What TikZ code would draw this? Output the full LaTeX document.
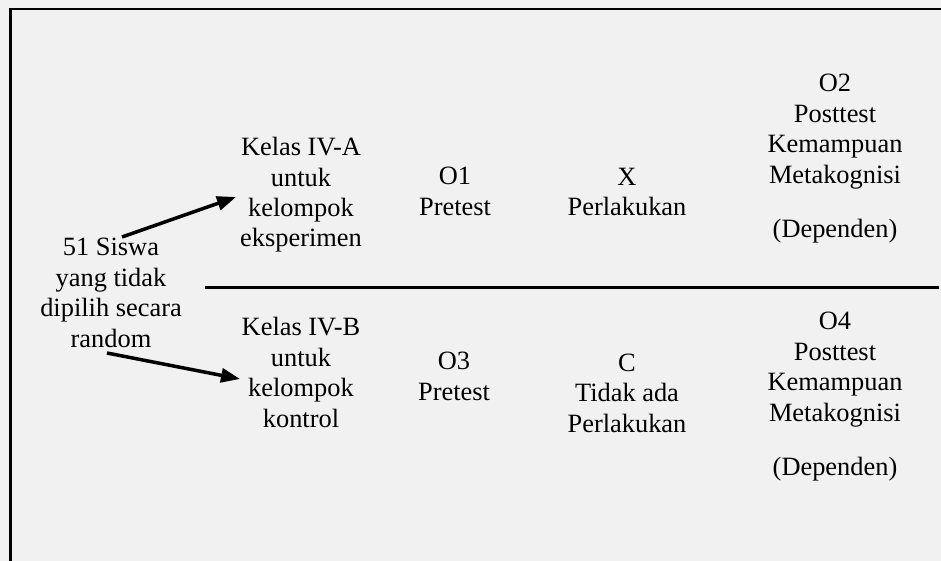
\documentclass[tikz,border=0pt]{standalone}
\usepackage{fontspec}
\setmainfont{Liberation Serif}
\usetikzlibrary{arrows.meta}
\definecolor{bggray}{HTML}{F1F1F1}
\tikzset{
  txt/.style={inner sep=0pt, anchor=base, align=center, font=\fontsize{26.4}{30.4}\selectfont},
  arr/.style={line width=3.5pt, -{Triangle[length=19pt,width=14pt]}},
  frame/.style={line width=2.4pt},
  divider/.style={line width=3.5pt}
}
\begin{document}
\begin{tikzpicture}[x=1pt,y=-1pt]
\useasboundingbox (0,0) rectangle (941,561);
\fill[bggray] (0,0) rectangle (941,561);
% frame (top and left only)
\coordinate (ftr) at (941,9);
\coordinate (ftl) at (10.5,9);
\coordinate (fbl) at (10.5,561);
\draw[frame] (ftr) -- (ftl) -- (fbl);
% divider
\coordinate (dl) at (205,287.5);
\coordinate (dr) at (939,287.5);
\draw[divider] (dl) -- (dr);
% texts (anchor = baseline of last line)
\node[txt] (siswa) at (111,347) {51 Siswa\\yang tidak\\dipilih secara\\random};
\node[txt] (kelasA) at (301,247) {Kelas IV-A\\untuk\\kelompok\\eksperimen};
\node[txt] (o1) at (455,215) {O1\\Pretest};
\node[txt] (x) at (627,216) {X\\Perlakukan};
\node[txt] (o2) at (835,237) {O2\\Posttest\\Kemampuan\\Metakognisi\\[23.5pt](Dependen)};
\node[txt] (kelasB) at (301,427) {Kelas IV-B\\untuk\\kelompok\\kontrol};
\node[txt] (o3) at (454,400) {O3\\Pretest};
\node[txt] (c) at (627,432) {C\\Tidak ada\\Perlakukan};
\node[txt] (o4) at (835,475) {O4\\Posttest\\Kemampuan\\Metakognisi\\[23.5pt](Dependen)};
% arrows
\coordinate (s1) at (122,237);
\coordinate (t1) at (236,197);
\coordinate (s2) at (107,353);
\coordinate (t2) at (240,379);
\draw[arr] (s1) -- (t1);
\draw[arr] (s2) -- (t2);
\end{tikzpicture}
\end{document}
